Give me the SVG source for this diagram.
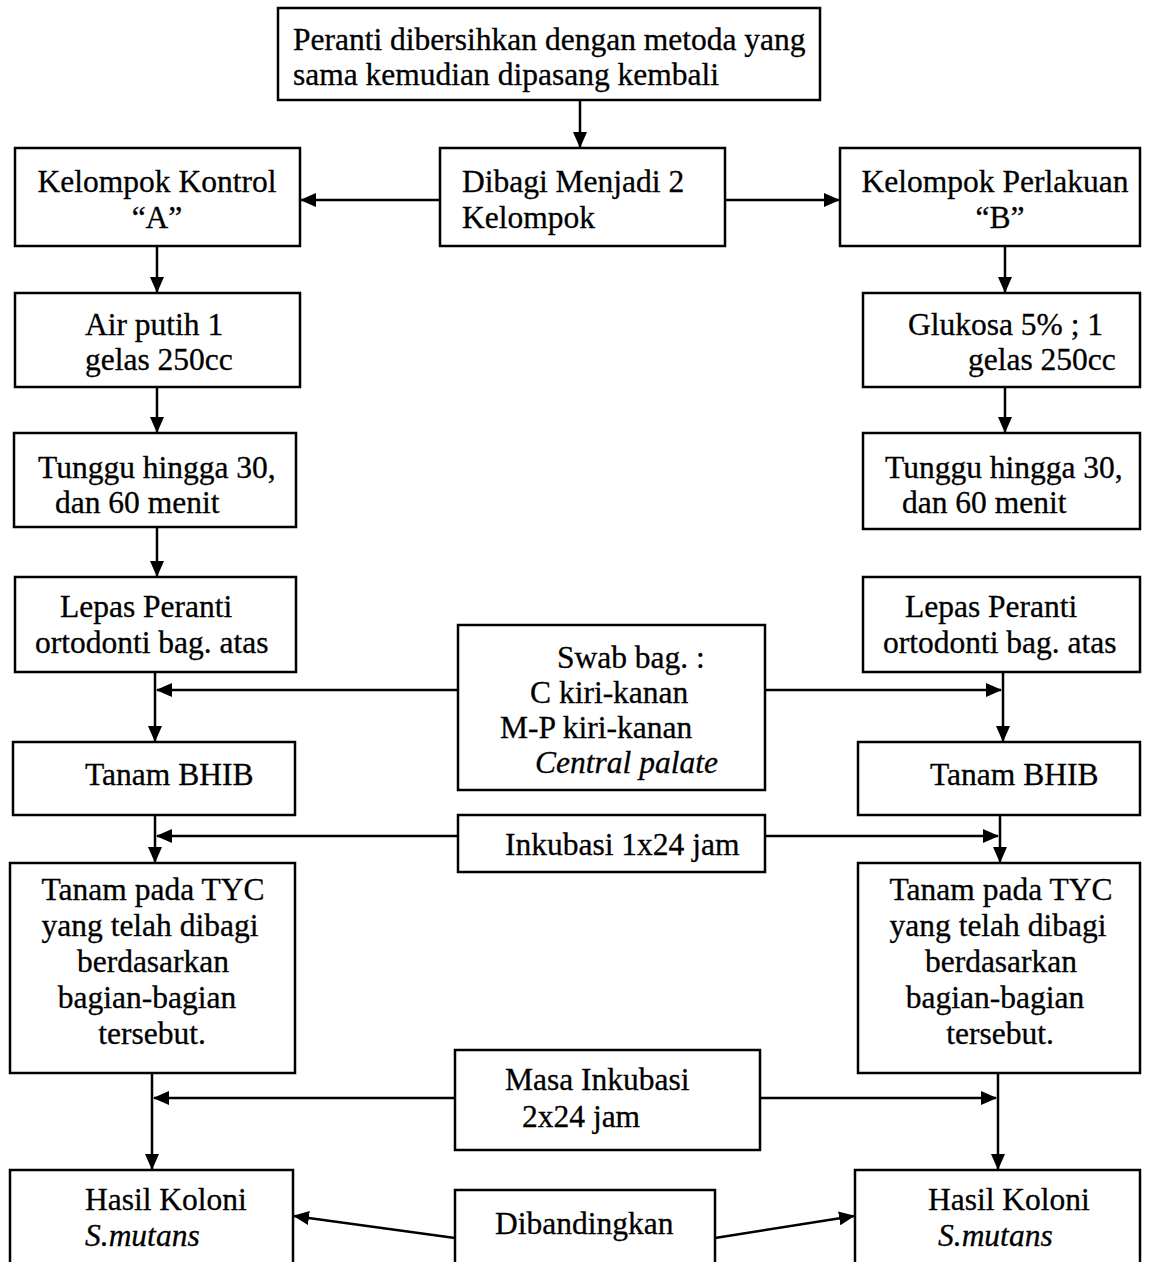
<svg xmlns="http://www.w3.org/2000/svg" width="1150" height="1262" viewBox="0 0 1150 1262">
<style>
.box{fill:#fff;stroke:#000;stroke-width:2.5}
.t{font-family:"Liberation Serif","Times New Roman",serif;font-size:31.5px;fill:#000;stroke:#000;stroke-width:0.3}
.c{text-anchor:middle}
.i{font-style:italic}
.ln{fill:none;stroke:#000;stroke-width:2.5}
</style>
<defs>
<marker id="ah" markerUnits="userSpaceOnUse" markerWidth="16" markerHeight="14" refX="15" refY="7" orient="auto">
<path d="M0,0 L16,7 L0,14 Z" fill="#000"/>
</marker>
</defs>
<rect width="1150" height="1262" fill="#fff"/>
<g id="connectors">
<line class="ln" x1="580" y1="100" x2="580" y2="147" marker-end="url(#ah)"/>
<line class="ln" x1="440" y1="200" x2="301" y2="200" marker-end="url(#ah)"/>
<line class="ln" x1="725" y1="200" x2="839" y2="200" marker-end="url(#ah)"/>
<line class="ln" x1="157" y1="246" x2="157" y2="292" marker-end="url(#ah)"/>
<line class="ln" x1="1005" y1="246" x2="1005" y2="292" marker-end="url(#ah)"/>
<line class="ln" x1="157" y1="387" x2="157" y2="432" marker-end="url(#ah)"/>
<line class="ln" x1="1005" y1="387" x2="1005" y2="432" marker-end="url(#ah)"/>
<line class="ln" x1="157" y1="527" x2="157" y2="576" marker-end="url(#ah)"/>
<line class="ln" x1="155" y1="672" x2="155" y2="741" marker-end="url(#ah)"/>
<line class="ln" x1="1003" y1="672" x2="1003" y2="741" marker-end="url(#ah)"/>
<line class="ln" x1="458" y1="690" x2="157" y2="690" marker-end="url(#ah)"/>
<line class="ln" x1="765" y1="690" x2="1001" y2="690" marker-end="url(#ah)"/>
<line class="ln" x1="155" y1="815" x2="155" y2="862" marker-end="url(#ah)"/>
<line class="ln" x1="1000" y1="815" x2="1000" y2="862" marker-end="url(#ah)"/>
<line class="ln" x1="458" y1="836" x2="157" y2="836" marker-end="url(#ah)"/>
<line class="ln" x1="765" y1="836" x2="998" y2="836" marker-end="url(#ah)"/>
<line class="ln" x1="152" y1="1073" x2="152" y2="1169" marker-end="url(#ah)"/>
<line class="ln" x1="998" y1="1073" x2="998" y2="1169" marker-end="url(#ah)"/>
<line class="ln" x1="455" y1="1098" x2="154" y2="1098" marker-end="url(#ah)"/>
<line class="ln" x1="760" y1="1098" x2="996" y2="1098" marker-end="url(#ah)"/>
<line class="ln" x1="455" y1="1238" x2="294" y2="1216" marker-end="url(#ah)"/>
<line class="ln" x1="715" y1="1238" x2="854" y2="1216" marker-end="url(#ah)"/>
</g>
<g id="n_top"><rect class="box" x="278" y="8" width="542" height="92"/>
<text class="t" x="293" y="50">Peranti dibersihkan dengan metoda yang</text>
<text class="t" x="293" y="85">sama kemudian dipasang kembali</text></g>
<g id="n_dibagi"><rect class="box" x="440" y="148" width="285" height="98"/>
<text class="t" x="462" y="192">Dibagi Menjadi 2</text>
<text class="t" x="462" y="228">Kelompok</text></g>
<g id="n_kontrol"><rect class="box" x="15" y="148" width="285" height="98"/>
<text class="t c" x="157" y="192">Kelompok Kontrol</text>
<text class="t c" x="157" y="228">“A”</text></g>
<g id="n_perlakuan"><rect class="box" x="840" y="148" width="300" height="98"/>
<text class="t c" x="995" y="192">Kelompok Perlakuan</text>
<text class="t c" x="1000" y="228">“B”</text></g>
<g id="n_air"><rect class="box" x="15" y="293" width="285" height="94"/>
<text class="t" x="85" y="335">Air putih 1</text>
<text class="t" x="85" y="370">gelas 250cc</text></g>
<g id="n_glukosa"><rect class="box" x="863" y="293" width="277" height="94"/>
<text class="t" x="908" y="335">Glukosa 5% ; 1</text>
<text class="t" x="968" y="370">gelas 250cc</text></g>
<g id="n_tunggu_a"><rect class="box" x="14" y="433" width="282" height="94"/>
<text class="t" x="38" y="478">Tunggu hingga 30,</text>
<text class="t" x="55" y="513">dan 60 menit</text></g>
<g id="n_tunggu_b"><rect class="box" x="863" y="433" width="277" height="96"/>
<text class="t" x="885" y="478">Tunggu hingga 30,</text>
<text class="t" x="902" y="513">dan 60 menit</text></g>
<g id="n_lepas_a"><rect class="box" x="15" y="577" width="281" height="95"/>
<text class="t" x="60" y="617">Lepas Peranti</text>
<text class="t" x="35" y="653">ortodonti bag. atas</text></g>
<g id="n_lepas_b"><rect class="box" x="863" y="577" width="277" height="95"/>
<text class="t" x="905" y="617">Lepas Peranti</text>
<text class="t" x="883" y="653">ortodonti bag. atas</text></g>
<g id="n_swab"><rect class="box" x="458" y="625" width="307" height="165"/>
<text class="t" x="557" y="668">Swab bag. :</text>
<text class="t" x="530" y="703">C kiri-kanan</text>
<text class="t" x="500" y="738">M-P kiri-kanan</text>
<text class="t i" x="535" y="773">Central palate</text></g>
<g id="n_bhib_a"><rect class="box" x="13" y="742" width="282" height="73"/>
<text class="t" x="85" y="785">Tanam BHIB</text></g>
<g id="n_bhib_b"><rect class="box" x="858" y="742" width="282" height="73"/>
<text class="t" x="930" y="785">Tanam BHIB</text></g>
<g id="n_inkubasi1"><rect class="box" x="458" y="815" width="307" height="57"/>
<text class="t" x="505" y="855">Inkubasi 1x24 jam</text></g>
<g id="n_tyc_a"><rect class="box" x="10" y="863" width="285" height="210"/>
<text class="t c" x="153" y="900">Tanam pada TYC</text>
<text class="t c" x="150" y="936">yang telah dibagi</text>
<text class="t c" x="153" y="972">berdasarkan</text>
<text class="t c" x="147" y="1008">bagian-bagian</text>
<text class="t c" x="152" y="1044">tersebut.</text></g>
<g id="n_tyc_b"><rect class="box" x="858" y="863" width="282" height="210"/>
<text class="t c" x="1001" y="900">Tanam pada TYC</text>
<text class="t c" x="998" y="936">yang telah dibagi</text>
<text class="t c" x="1001" y="972">berdasarkan</text>
<text class="t c" x="995" y="1008">bagian-bagian</text>
<text class="t c" x="1000" y="1044">tersebut.</text></g>
<g id="n_masa"><rect class="box" x="455" y="1050" width="305" height="100"/>
<text class="t" x="505" y="1090">Masa Inkubasi</text>
<text class="t" x="522" y="1127">2x24 jam</text></g>
<g id="n_hasil_a"><rect class="box" x="10" y="1170" width="283" height="110"/>
<text class="t" x="85" y="1210">Hasil Koloni</text>
<text class="t i" x="85" y="1246">S.mutans</text></g>
<g id="n_hasil_b"><rect class="box" x="855" y="1170" width="285" height="110"/>
<text class="t" x="928" y="1210">Hasil Koloni</text>
<text class="t i" x="938" y="1246">S.mutans</text></g>
<g id="n_banding"><rect class="box" x="455" y="1190" width="260" height="90"/>
<text class="t" x="495" y="1234">Dibandingkan</text></g>
</svg>
